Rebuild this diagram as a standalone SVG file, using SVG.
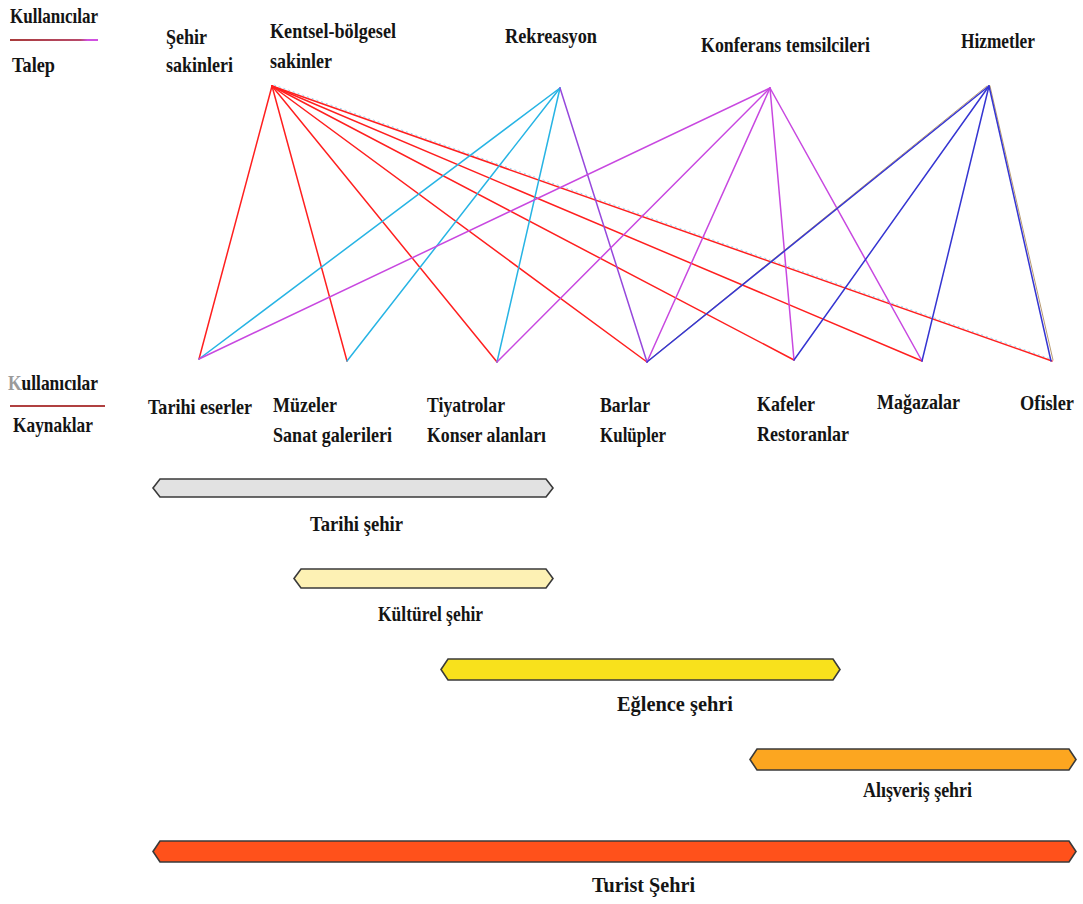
<svg xmlns="http://www.w3.org/2000/svg" width="1083" height="904" viewBox="0 0 1083 904">
  <defs>
    <style>
      text { font-family: "Liberation Serif", "Times New Roman", serif; font-weight: bold; font-size: 22px; fill: #141414; }
      .ln { fill: none; stroke-width: 1.5; stroke-linecap: round; }
      .red { stroke: #ff1f1f; }
      .cyan { stroke: #27b4e4; }
      .mag { stroke: #c848e0; }
      .pur { stroke: #9648dc; }
      .blue { stroke: #3535d2; }
      .tan { stroke: #b89a70; stroke-width: 1; }
      .bar { stroke: #3a3a3a; stroke-width: 1.6; stroke-linejoin: miter; }
    </style>
    <linearGradient id="legendTop" gradientUnits="userSpaceOnUse" x1="10" y1="0" x2="98" y2="0">
      <stop offset="0" stop-color="#a83a3a"/>
      <stop offset="0.8" stop-color="#b84a6a"/>
      <stop offset="0.88" stop-color="#d050e0"/>
      <stop offset="1" stop-color="#d050e0"/>
    </linearGradient>
    <!-- grey initial letter, dark remainder -->
    <linearGradient id="greyInitial" gradientUnits="userSpaceOnUse" x1="8" y1="0" x2="98" y2="0">
      <stop offset="0" stop-color="#9a9a9a"/>
      <stop offset="0.14" stop-color="#9a9a9a"/>
      <stop offset="0.15" stop-color="#141414"/>
      <stop offset="1" stop-color="#141414"/>
    </linearGradient>
  </defs>
  <rect width="1083" height="904" fill="#ffffff"/>

  <!-- legend -->
  <g id="legend-demand">
    <text x="10" y="23" textLength="88" lengthAdjust="spacingAndGlyphs">Kullanıcılar</text>
    <line x1="10" y1="40" x2="98" y2="40" stroke="url(#legendTop)" stroke-width="2"/>
    <text x="12" y="72" textLength="43" lengthAdjust="spacingAndGlyphs">Talep</text>
  </g>
  <g id="legend-supply">
    <text x="8" y="390" textLength="90" lengthAdjust="spacingAndGlyphs" style="fill:url(#greyInitial)">Kullanıcılar</text>
    <line x1="10" y1="406" x2="105" y2="406" stroke="#b04040" stroke-width="2"/>
    <text x="13" y="432" textLength="80" lengthAdjust="spacingAndGlyphs">Kaynaklar</text>
  </g>

  <!-- user groups -->
  <g id="user-sehir-sakinleri">
    <text x="166" y="44" textLength="41" lengthAdjust="spacingAndGlyphs">Şehir</text>
    <text x="166" y="72" textLength="67" lengthAdjust="spacingAndGlyphs">sakinleri</text>
  </g>
  <g id="user-kentsel">
    <text x="270" y="38" textLength="126" lengthAdjust="spacingAndGlyphs">Kentsel-bölgesel</text>
    <text x="270" y="68" textLength="62" lengthAdjust="spacingAndGlyphs">sakinler</text>
  </g>
  <g id="user-rekreasyon">
    <text x="505" y="43" textLength="92" lengthAdjust="spacingAndGlyphs">Rekreasyon</text>
  </g>
  <g id="user-konferans">
    <text x="701" y="52" textLength="169" lengthAdjust="spacingAndGlyphs">Konferans temsilcileri</text>
  </g>
  <g id="user-hizmetler">
    <text x="961" y="48" textLength="74" lengthAdjust="spacingAndGlyphs">Hizmetler</text>
  </g>

  <!-- connectors -->
  <g id="connectors">
    <!-- Kentsel-bölgesel sakinler -->
    <line class="ln red" x1="272" y1="86" x2="199" y2="359"/>
    <line class="ln red" x1="272" y1="86" x2="347" y2="361"/>
    <line class="ln red" x1="272" y1="86" x2="497" y2="362"/>
    <line class="ln red" x1="272" y1="86" x2="647" y2="362"/>
    <line class="ln red" x1="272" y1="86" x2="794" y2="360"/>
    <line class="ln red" x1="272" y1="86" x2="922" y2="361"/>
    <line class="ln red" x1="272" y1="86" x2="1052" y2="361" stroke-width="2.4"/>
    <line x1="274" y1="85" x2="1052" y2="359.5" stroke="#4fb0e0" stroke-width="0.8" stroke-dasharray="2 3" opacity="0.7"/>
    <!-- Rekreasyon -->
    <line class="ln cyan" x1="560" y1="88" x2="199" y2="359" stroke-width="1.9"/>
    <line class="ln cyan" x1="560" y1="88" x2="347" y2="361"/>
    <line class="ln cyan" x1="560" y1="88" x2="497" y2="362"/>
    <line class="ln pur" x1="560" y1="88" x2="647" y2="362"/>
    <!-- Konferans temsilcileri -->
    <line class="ln mag" x1="770" y1="88" x2="199" y2="359" stroke-width="1.9"/>
    <line class="ln mag" x1="770" y1="88" x2="497" y2="362"/>
    <line class="ln mag" x1="770" y1="88" x2="647" y2="362"/>
    <line class="ln mag" x1="770" y1="88" x2="794" y2="360"/>
    <line class="ln mag" x1="770" y1="88" x2="922" y2="361"/>
    <!-- Hizmetler -->
    <line class="ln tan" x1="987" y1="86" x2="649" y2="360"/>
    <line class="ln blue" x1="989" y1="86" x2="647" y2="362"/>
    <line class="ln blue" x1="989" y1="86" x2="794" y2="360"/>
    <line class="ln blue" x1="989" y1="86" x2="922" y2="361"/>
    <line class="ln tan" x1="990" y1="86" x2="1053" y2="360"/>
    <line class="ln blue" x1="989" y1="86" x2="1051" y2="361"/>
  </g>

  <!-- resources -->
  <g id="res-tarihi-eserler">
    <text x="148" y="414" textLength="104" lengthAdjust="spacingAndGlyphs">Tarihi eserler</text>
  </g>
  <g id="res-muzeler">
    <text x="273" y="412" textLength="64" lengthAdjust="spacingAndGlyphs">Müzeler</text>
    <text x="273" y="442" textLength="119" lengthAdjust="spacingAndGlyphs">Sanat galerileri</text>
  </g>
  <g id="res-tiyatrolar">
    <text x="427" y="412" textLength="78" lengthAdjust="spacingAndGlyphs">Tiyatrolar</text>
    <text x="427" y="442" textLength="119" lengthAdjust="spacingAndGlyphs">Konser alanları</text>
  </g>
  <g id="res-barlar">
    <text x="600" y="412" textLength="50" lengthAdjust="spacingAndGlyphs">Barlar</text>
    <text x="600" y="442" textLength="66" lengthAdjust="spacingAndGlyphs">Kulüpler</text>
  </g>
  <g id="res-kafeler">
    <text x="757" y="411" textLength="58" lengthAdjust="spacingAndGlyphs">Kafeler</text>
    <text x="757" y="441" textLength="92" lengthAdjust="spacingAndGlyphs">Restoranlar</text>
  </g>
  <g id="res-magazalar">
    <text x="877" y="409" textLength="83" lengthAdjust="spacingAndGlyphs">Mağazalar</text>
  </g>
  <g id="res-ofisler">
    <text x="1020" y="410" textLength="54" lengthAdjust="spacingAndGlyphs">Ofisler</text>
  </g>

  <!-- city type ranges -->
  <g id="bar-tarihi">
    <path class="bar" fill="#e2e2e2" d="M153,488 L160,479 L546,479 L553,488 L546,497 L160,497 Z"/>
    <text x="310" y="531" textLength="93" lengthAdjust="spacingAndGlyphs">Tarihi şehir</text>
  </g>
  <g id="bar-kulturel">
    <path class="bar" fill="#fdf1b4" d="M294,578.5 L301,569 L546,569 L553,578.5 L546,588 L301,588 Z"/>
    <text x="378" y="621" textLength="105" lengthAdjust="spacingAndGlyphs">Kültürel şehir</text>
  </g>
  <g id="bar-eglence">
    <path class="bar" fill="#f8e11c" d="M441,669.5 L448,659 L833,659 L840,669.5 L833,680 L448,680 Z"/>
    <text x="617" y="711" textLength="116" lengthAdjust="spacingAndGlyphs">Eğlence şehri</text>
  </g>
  <g id="bar-alisveris">
    <path class="bar" fill="#fca620" d="M750,759.5 L757,749 L1069,749 L1076,759.5 L1069,770 L757,770 Z"/>
    <text x="863" y="797" textLength="109" lengthAdjust="spacingAndGlyphs">Alışveriş şehri</text>
  </g>
  <g id="bar-turist">
    <path class="bar" fill="#ff511b" d="M153,851.5 L160,841 L1069,841 L1076,851.5 L1069,862 L160,862 Z"/>
    <text x="592" y="892" textLength="103" lengthAdjust="spacingAndGlyphs">Turist Şehri</text>
  </g>
</svg>
